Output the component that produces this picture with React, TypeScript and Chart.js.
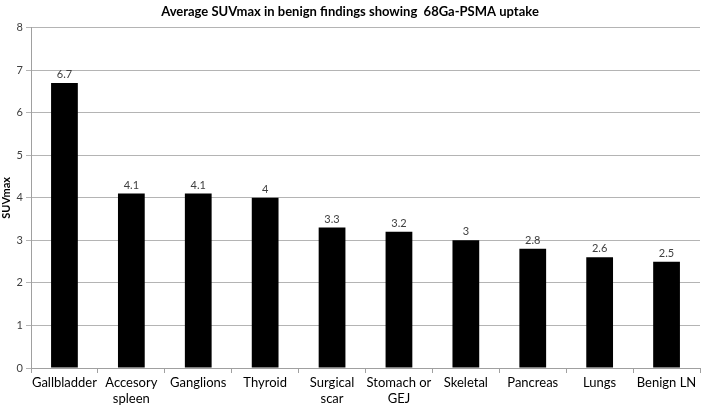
import React, { useEffect, useRef } from "react";
import { Chart, registerables } from "chart.js";

Chart.register(...registerables);

const categories: (string | string[])[] = [
  "Gallbladder",
  ["Accesory", "spleen"],
  "Ganglions",
  "Thyroid",
  ["Surgical", "scar"],
  ["Stomach or", "GEJ"],
  "Skeletal",
  "Pancreas",
  "Lungs",
  "Benign LN",
];
const suvMax = [6.7, 4.1, 4.1, 4.0, 3.3, 3.2, 3.0, 2.8, 2.6, 2.5];
const labelsText = ["6.7", "4.1", "4.1", "4", "3.3", "3.2", "3", "2.8", "2.6", "2.5"];
const yTicks = [0, 1, 2, 3, 4, 5, 6, 7, 8];

const FONT = "Lato, 'Open Sans', sans-serif";

const valueLabels = {
  id: "valueLabels",
  afterDatasetsDraw(chart: any) {
    const ctx = chart.ctx;
    const meta = chart.getDatasetMeta(0);
    ctx.save();
    ctx.fillStyle = "#404040";
    ctx.font = `11px ${FONT}`;
    ctx.textAlign = "center";
    ctx.textBaseline = "bottom";
    meta.data.forEach((bar: any, i: number) => {
      ctx.fillText(labelsText[i], bar.x, bar.y - 3);
    });
    ctx.restore();
  },
};

export default function App() {
  const ref = useRef<HTMLCanvasElement>(null);
  useEffect(() => {
    document.body.style.margin = "0";
    const chart = new Chart(ref.current!, {
      type: "bar",
      data: {
        labels: categories,
        datasets: [
          {
            data: suvMax,
            backgroundColor: "#000000",
            borderWidth: 0,
            barPercentage: 0.4,
            categoryPercentage: 1,
          },
        ],
      },
      options: {
        animation: false,
        responsive: false,
        layout: { padding: { left: 0, right: 9, top: 0, bottom: 0 } },
        plugins: {
          legend: { display: false },
          tooltip: { enabled: false },
          title: {
            display: true,
            text: "Average SUVmax in benign findings showing  68Ga-PSMA uptake",
            color: "#000",
            font: { family: FONT, size: 13, weight: "bold" },
            padding: { top: 4, bottom: 8 },
          },
        },
        scales: {
          x: {
            offset: true,
            grid: {
              offset: true,
              drawOnChartArea: false,
              drawTicks: true,
              tickLength: 5,
              color: "#a0a0a0",
            },
            border: { color: "#a0a0a0" },
            ticks: {
              color: "#000",
              font: { family: FONT, size: 13 },
              padding: 2,
              maxRotation: 0,
              autoSkip: false,
            },
            afterFit(s: any) {
              s.height = 41;
            },
          },
          y: {
            min: 0,
            max: 8,
            afterBuildTicks(s: any) {
              s.ticks = yTicks.map((v) => ({ value: v }));
            },
            grid: { color: "#b4b4b4", tickLength: 5 },
            border: { color: "#a0a0a0" },
            ticks: {
              color: "#404040",
              font: { family: FONT, size: 11 },
              padding: 3,
            },
            title: {
              display: true,
              text: "SUVmax",
              color: "#000",
              font: { family: FONT, size: 11, weight: "bold" },
              padding: 0,
            },
            afterFit(s: any) {
              s.width = 31;
            },
          },
        },
      },
      plugins: [valueLabels],
    });
    return () => chart.destroy();
  }, []);
  return (
    <div style={{ width: 709, height: 409, background: "#fff" }}>
      <canvas ref={ref} width={709} height={409} />
    </div>
  );
}
